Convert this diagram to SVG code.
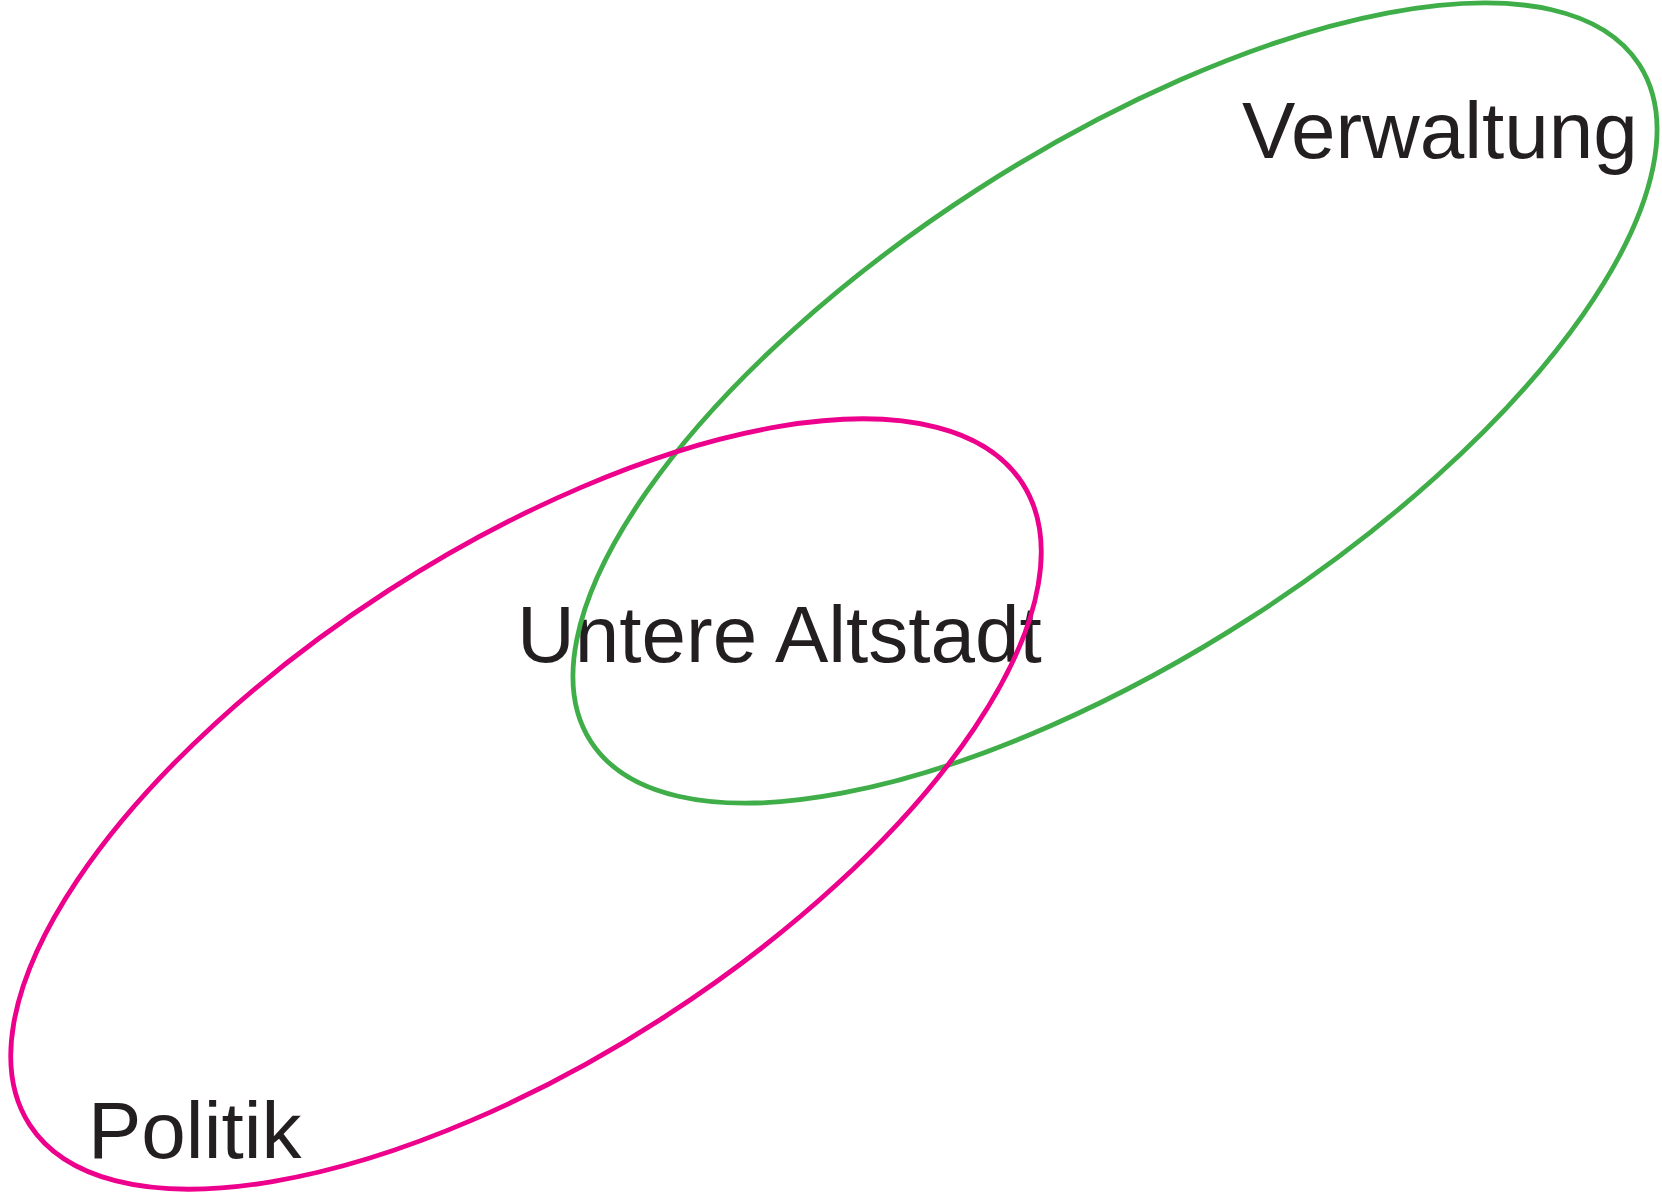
<svg xmlns="http://www.w3.org/2000/svg" width="1662" height="1198" viewBox="0 0 1662 1198">
<style>
.lbl{font-family:"Liberation Sans",Arial,sans-serif;font-size:80px;fill:#231f20}
.ell{fill:none;stroke-width:4.8}
</style>
<rect width="1662" height="1198" fill="#ffffff"/>
<g id="label-verwaltung"><text class="lbl" x="1242" y="158">Verwaltung</text></g>
<g id="label-politik"><text class="lbl" x="88" y="1158">Politik</text></g>
<g id="label-untere-altstadt"><text class="lbl" x="517" y="662">Untere Altstadt</text></g>
<g id="node-verwaltung"><ellipse class="ell" stroke="#3fae49" cx="1115" cy="403" rx="624" ry="254" transform="rotate(-32.85 1115 403)"/></g>
<g id="node-politik"><ellipse class="ell" stroke="#ec008c" cx="526" cy="804" rx="591" ry="254" transform="rotate(-32.86 526 804)"/></g>
<g id="connectors"></g>
</svg>
